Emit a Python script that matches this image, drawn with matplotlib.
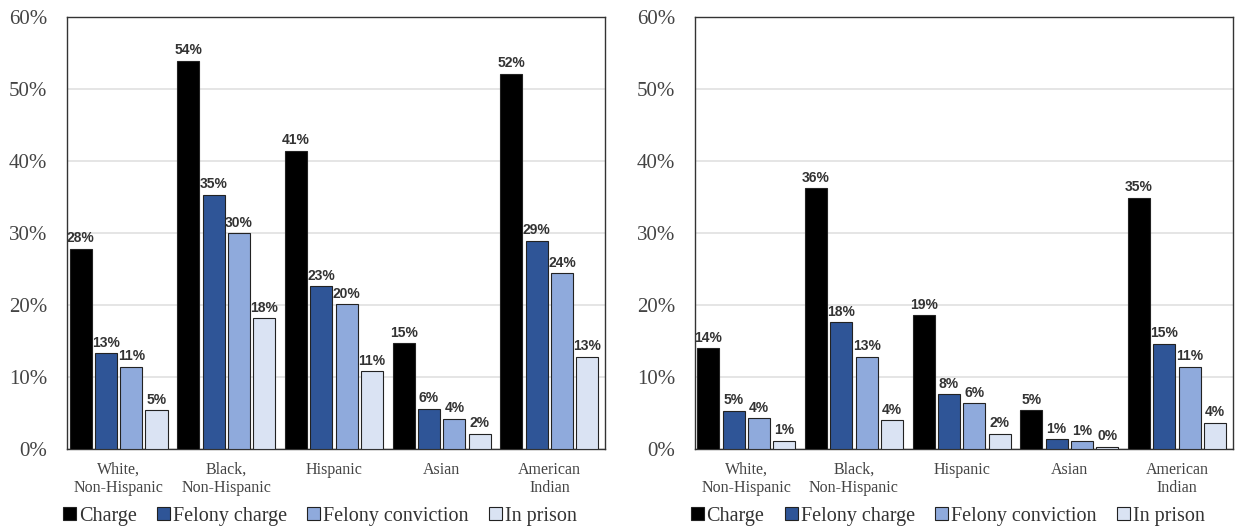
import numpy as np
import matplotlib.pyplot as plt

plt.rcParams['font.family'] = ['Liberation Serif', 'DejaVu Serif']

# ---- data ----
groups = ['White,\nNon-Hispanic', 'Black,\nNon-Hispanic', 'Hispanic', 'Asian', 'American\nIndian']
series = ['Charge', 'Felony charge', 'Felony conviction', 'In prison']

left_charge = [27.8, 53.9, 41.4, 14.7, 52.1]
left_felony_charge = [13.3, 35.3, 22.6, 5.6, 28.9]
left_felony_conv = [11.4, 30.0, 20.1, 4.2, 24.4]
left_prison = [5.4, 18.2, 10.8, 2.1, 12.8]

right_charge = [14.0, 36.2, 18.6, 5.4, 34.9]
right_felony_charge = [5.3, 17.6, 7.6, 1.4, 14.6]
right_felony_conv = [4.3, 12.8, 6.4, 1.1, 11.4]
right_prison = [1.2, 4.0, 2.1, 0.3, 3.7]

COLORS = ['#000000', '#2F5597', '#8FAADC', '#DAE3F3']


def draw_panel(ax, data):
    x = np.arange(len(groups))
    step = 0.235
    width = 0.205
    for i, (vals, name) in enumerate(zip(data, series)):
        pos = x + (i - 1.5) * step
        bars = ax.bar(pos, vals, width, color=COLORS[i], edgecolor='#222222',
                      linewidth=0.8, label=name, zorder=3)
        for b, v in zip(bars, vals):
            ax.text(b.get_x() + b.get_width() / 2, v + 0.5, f'{round(v):.0f}%',
                    ha='center', va='bottom', fontsize=10, fontweight='bold',
                    family=['Liberation Sans', 'DejaVu Sans'], color='#333333')
    ax.set_xlim(-0.48, 4.52)
    ax.set_ylim(0, 60)
    ax.set_yticks(range(0, 61, 10))
    ax.set_yticklabels([f'{t}%' for t in range(0, 61, 10)], fontsize=15, color='#444444')
    ax.set_xticks(x)
    ax.set_xticklabels(groups, fontsize=11.5, color='#444444')
    ax.tick_params(axis='both', length=0)
    ax.tick_params(axis='y', pad=14)
    ax.tick_params(axis='x', pad=9)
    ax.yaxis.grid(True, color='#E0E0E0', linewidth=1.2, zorder=0)
    ax.set_axisbelow(True)
    for s in ax.spines.values():
        s.set_color('#333333')
        s.set_linewidth(1.0)
    ax.legend(loc='center', bbox_to_anchor=(0.47, -0.155), ncol=4, frameon=False,
              fontsize=14.5, handlelength=0.65, handleheight=0.65, handletextpad=0.15,
              columnspacing=1.0, labelcolor='#333333', borderaxespad=0, borderpad=0)


fig = plt.figure(figsize=(12.38, 5.31), dpi=100)
ax1 = fig.add_axes([0.054, 0.154, 0.435, 0.814])
ax2 = fig.add_axes([0.561, 0.154, 0.435, 0.814])

draw_panel(ax1, [left_charge, left_felony_charge, left_felony_conv, left_prison])
draw_panel(ax2, [right_charge, right_felony_charge, right_felony_conv, right_prison])

fig.savefig('out.png', dpi=100)
